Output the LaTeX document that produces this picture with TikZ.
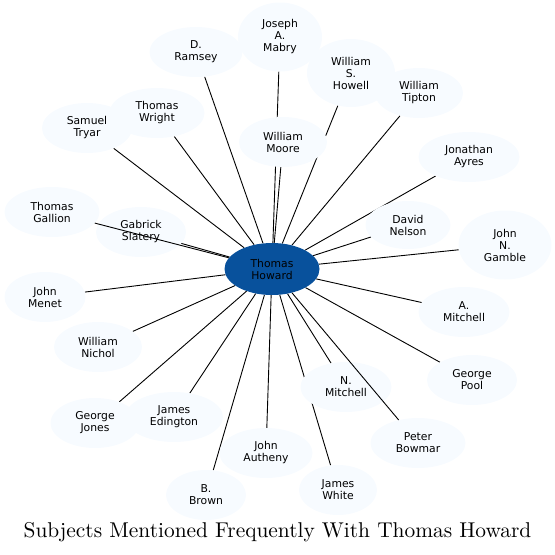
\documentclass[tikz,border=0pt]{standalone}
\usepackage{fontspec}
\usepackage{xcolor}
\newfontfamily\namefont{DejaVu Sans}
\newfontfamily\titlefont{lmroman10-regular.otf}
\usetikzlibrary{shapes.geometric, backgrounds}
\definecolor{howardBlue}{HTML}{08519C}
\definecolor{namePale}{HTML}{F7FBFF}

\begin{document}
\begin{tikzpicture}[x=1pt, y=-1pt,
      person/.style={ellipse, fill=namePale, minimum width=90pt, minimum height=50pt, inner sep=0pt,
      align=center, font=\namefont\fontsize{10.8}{12}\selectfont},
      hub/.style={person, fill=howardBlue, minimum width=95pt, minimum height=52pt},
      link/.style={line width=0.9pt, draw=black}
    ]
    \useasboundingbox (0,0) rectangle (555,555);

    \node[hub] (howard) at (272,269) {Thomas\\Howard};

    % upper half
    \node[person, minimum width=93pt] (ramsey) at (196,52) {D.\\Ramsey};
    \node[person, minimum width=84pt, minimum height=69pt] (mabry) at (280,37) {Joseph\\A.\\Mabry};
    \node[person, minimum width=88pt, minimum height=68pt] (howell) at (351,73) {William\\S.\\Howell};
    \node[person, minimum width=88pt] (tipton) at (419,93) {William\\Tipton};
    \node[person, minimum width=88pt] (moore) at (283,142) {William\\Moore};
    \node[person, minimum width=101pt] (ayres) at (469,157) {Jonathan\\Ayres};
    \node[person, minimum width=85pt, minimum height=48pt] (nelson) at (408,225) {David\\Nelson};
    \node[person, minimum width=93pt, minimum height=69pt] (gamble) at (505,245) {John\\N.\\Gamble};
    \node[person] (tryar) at (87,128) {Samuel\\Tryar};
    \node[person, minimum width=95pt] (wright) at (157,113) {Thomas\\Wright};
    \node[person, minimum width=95pt] (gallion) at (52,212) {Thomas\\Gallion};
    \node[person] (slatery) at (141,232) {Gabrick\\Slatery};

    % lower half
    \node[person, minimum width=81pt] (menet) at (45,297) {John\\Menet};
    \node[person, minimum width=88pt] (nichol) at (98,347) {William\\Nichol};
    \node[person, minimum width=89pt] (jones) at (95,423) {George\\Jones};
    \node[person, minimum width=98pt] (edington) at (174,417) {James\\Edington};
    \node[person, minimum width=80pt] (brown) at (206,495) {B.\\Brown};
    \node[person, minimum width=93pt] (autheny) at (266,453) {John\\Autheny};
    \node[person, minimum width=78pt] (white) at (338,490) {James\\White};
    \node[person, minimum width=91pt] (nmitchell) at (346,387) {N.\\Mitchell};
    \node[person, minimum width=95pt] (bowmar) at (418,443) {Peter\\Bowmar};
    \node[person, minimum width=91pt] (amitchell) at (464,312) {A.\\Mitchell};
    \node[person] (pool) at (472,380) {George\\Pool};

    \begin{scope}[on background layer]
      \foreach \who in {ramsey, mabry, howell, tipton, moore, ayres, nelson, gamble, tryar, wright, slatery,
          menet, nichol, jones, edington, brown, autheny, white, nmitchell, amitchell, pool}
        \draw[link] (howard) -- (\who);
    \end{scope}
    % these two run over the names they cross
    \draw[link] (howard) -- (gallion);
    \draw[link] (howard) -- (bowmar);

    \node[font=\titlefont\fontsize{21.4}{24}\selectfont] (title) at (277.5,532) {Subjects Mentioned Frequently With Thomas Howard};
  \end{tikzpicture}
\end{document}
